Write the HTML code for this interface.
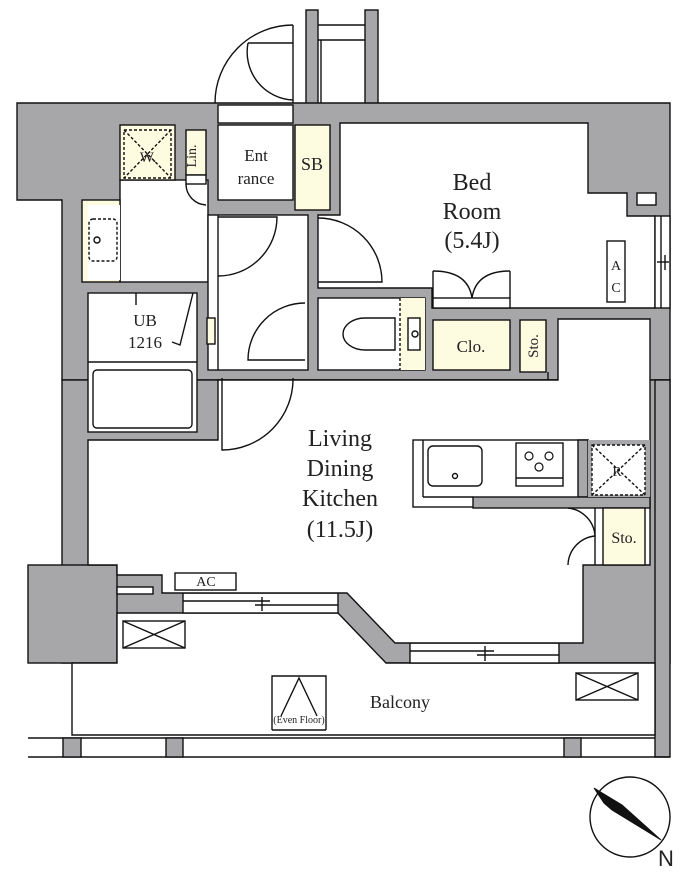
<!DOCTYPE html>
<html><head><meta charset="utf-8"><style>
html,body{margin:0;padding:0;background:#fff;}
svg{display:block;}
text{font-family:"Liberation Serif",serif;fill:#222;}
</style></head><body>
<svg width="700" height="873" viewBox="0 0 700 873" xmlns="http://www.w3.org/2000/svg">
<g stroke="#111" stroke-width="1.4" fill="none">
<rect x="306" y="10" width="12" height="95" fill="#a7a7a9"/>
<rect x="365" y="10" width="13" height="95" fill="#a7a7a9"/>
<line x1="318" y1="25" x2="365" y2="25"/><line x1="318" y1="40" x2="365" y2="40"/>
<line x1="321" y1="40" x2="321" y2="103"/>
<line x1="293" y1="25" x2="293" y2="103"/>
<path d="M293,25 A78,78 0 0 0 215,103"/>
<line x1="248" y1="43" x2="293" y2="43"/>
<path d="M248,43 A48,48 0 0 0 293,100"/>

<polygon points="17,103 670,103 670,380 62,380 62,200 17,200" fill="#a7a7a9"/>
<rect x="62" y="380" width="608" height="283" fill="#a7a7a9"/>
<rect x="28" y="565" width="89" height="98" fill="#a7a7a9"/>
<rect x="655" y="380" width="15" height="377" fill="#a7a7a9"/>

<polygon points="117,613 338,613 386,663 655,663 655,735 72,735 72,663 117,663" fill="#fff"/>
<line x1="28" y1="738" x2="655" y2="738"/>
<line x1="28" y1="757" x2="670" y2="757"/>
<rect x="63" y="738" width="18" height="19" fill="#a7a7a9"/>
<rect x="166" y="738" width="17" height="19" fill="#a7a7a9"/>
<rect x="564" y="738" width="17" height="19" fill="#a7a7a9"/>
<rect x="123" y="621" width="62" height="27" fill="#fff"/>
<path d="M123,621 L185,648 M185,621 L123,648"/>
<rect x="576" y="673" width="62" height="27" fill="#fff"/>
<path d="M576,673 L638,700 M638,673 L576,700"/>
<path d="M272,730 L272,676 L326,676 L326,730 M281,716 L299,678 L317,716 M272,730 L326,730"/>

<rect x="183" y="593" width="155" height="20" fill="#fff"/>
<line x1="183" y1="601" x2="270" y2="601"/><line x1="255" y1="605" x2="338" y2="605"/><line x1="262" y1="597" x2="262" y2="611"/>
<rect x="410" y="643" width="149" height="20" fill="#fff"/>
<line x1="410" y1="651" x2="494" y2="651"/><line x1="477" y1="655" x2="559" y2="655"/><line x1="485" y1="646" x2="485" y2="661"/>

<rect x="218" y="105" width="75" height="18" fill="#fff"/>
<rect x="218" y="125" width="75" height="75" fill="#fff"/>
<rect x="295" y="125" width="35" height="85" fill="#fdfbe0"/>
<rect x="120" y="180" width="88" height="102" fill="#fff"/>
<rect x="120" y="125" width="55" height="55" fill="#fdfbe0"/>
<rect x="124" y="130" width="47" height="48" stroke-dasharray="3,2"/>
<path d="M124,130 L171,178 M171,130 L124,178" stroke-dasharray="3,2"/>
<rect x="186" y="130" width="20" height="45" fill="#fdfbe0"/>
<rect x="186" y="175" width="20" height="9" fill="#fff"/>
<path d="M206,205 A21,21 0 0 1 186,184"/>
<rect x="82" y="200" width="38" height="82" fill="#fdfbe0"/>
<rect x="88" y="205" width="32" height="75" fill="#fff" stroke="none"/>
<rect x="89" y="219" width="28" height="42" rx="4" stroke-dasharray="3,2"/>
<circle cx="97" cy="240" r="3"/>
<rect x="88" y="293" width="109" height="139" fill="#fff"/>
<line x1="88" y1="362" x2="197" y2="362"/>
<rect x="93" y="370" width="99" height="58" rx="4"/>
<path d="M136,293 L136,305 M193,293 L180,345 L172,342"/>
<rect x="208" y="215" width="100" height="155" fill="#fff"/>
<rect x="207" y="318" width="8" height="26" fill="#fdfbe0"/>
<path d="M218,217 L277,217 A59,59 0 0 1 218,276"/>
<path d="M305,360 L248,360 A57,57 0 0 1 305,303"/>
<line x1="218" y1="215" x2="218" y2="370"/>
<polygon points="340,123 588,123 588,193 627,193 627,216 655,216 655,308 432,308 432,288 318,288 318,215 340,215" fill="#fff"/>
<rect x="637" y="193" width="19" height="12" fill="#fff"/>
<rect x="655" y="216" width="15" height="92" fill="#fff"/>
<line x1="661" y1="216" x2="661" y2="308"/><line x1="657" y1="262" x2="669" y2="262"/><line x1="665" y1="255" x2="665" y2="270"/>
<rect x="607" y="241" width="18" height="61" fill="#fff"/>
<path d="M318,282 L382,282 A64,64 0 0 0 318,218"/>
<rect x="433" y="298" width="77" height="10" fill="#fff"/>
<line x1="433" y1="271" x2="433" y2="298"/><line x1="510" y1="271" x2="510" y2="298"/>
<path d="M433,271 Q468,271 472,298 M510,271 Q476,271 472,298"/>
<rect x="318" y="298" width="107" height="72" fill="#fff"/>
<rect x="400" y="298" width="25" height="72" fill="#fdfbe0" stroke-width="0"/>
<line x1="400" y1="298" x2="400" y2="370" stroke-dasharray="3,2"/>
<path d="M395,318 L365,318 A22,16 0 0 0 365,350 L395,350 Z" fill="#fff"/>
<rect x="408" y="318" width="12" height="32" fill="#fff"/>
<circle cx="415" cy="334" r="3"/>
<rect x="433" y="320" width="77" height="50" fill="#fdfbe0"/>
<rect x="520" y="320" width="26" height="52" fill="#fdfbe0"/>
<path d="M548,372 L548,408 A28,28 0 0 1 520,380"/>
<polygon points="88,440 218,440 218,380 558,380 558,319 650,319 650,565 583,565 583,643 395,643 347,593 162,593 162,575 117,575 117,565 88,565" fill="#fff"/>
<rect x="117" y="587" width="36" height="7" fill="#fff"/>
<rect x="175" y="573" width="61" height="17" fill="#fff"/>
<path d="M222,378 L222,450 A71,71 0 0 0 293,378"/>
<rect x="413" y="440" width="175" height="67" fill="#fff"/>
<rect x="578" y="440" width="10" height="57" fill="#a7a7a9"/>
<rect x="473" y="497" width="177" height="11" fill="#a7a7a9"/>
<line x1="423" y1="440" x2="423" y2="497"/><line x1="423" y1="497" x2="473" y2="497"/>
<rect x="428" y="446" width="54" height="40" rx="5"/>
<circle cx="455" cy="476" r="2.5"/>
<rect x="516" y="443" width="47" height="43"/>
<line x1="516" y1="478" x2="563" y2="478"/>
<g stroke-width="1.2"><circle cx="529" cy="456" r="4"/><circle cx="549" cy="456" r="4"/><circle cx="539" cy="467" r="4"/></g>
<rect x="588" y="440" width="62" height="57" fill="#a7a7a9" stroke="none"/>
<rect x="592" y="445" width="53" height="50" fill="#fff" stroke-dasharray="3,2"/>
<path d="M592,445 L645,495 M645,445 L592,495" stroke-dasharray="3,2"/>
<rect x="603" y="508" width="42" height="57" fill="#fdfbe0"/>
<line x1="595" y1="508" x2="595" y2="565"/>
<path d="M568,508 A30,30 0 0 1 595,536 A30,30 0 0 0 568,565"/>
<ellipse cx="630" cy="817" rx="40" ry="40"/>
<polygon points="594,788 622,805 661,840 612,810 604,803" fill="#111" stroke-width="1"/>
</g>
<g text-anchor="middle">
<text x="472" y="190" font-size="24">Bed</text>
<text x="472" y="219" font-size="24">Room</text>
<text x="472" y="248" font-size="24">(5.4J)</text>
<text x="340" y="446" font-size="24">Living</text>
<text x="340" y="476" font-size="24">Dining</text>
<text x="340" y="506" font-size="24">Kitchen</text>
<text x="340" y="537" font-size="24">(11.5J)</text>
<text x="256" y="161" font-size="17">Ent</text>
<text x="256" y="184" font-size="17">rance</text>
<text x="312" y="170" font-size="18">SB</text>
<text x="148" y="162" font-size="15">W.</text>
<text x="145" y="326" font-size="17">UB</text>
<text x="145" y="348" font-size="17">1216</text>
<text x="471" y="352" font-size="17">Clo.</text>
<text x="616" y="270" font-size="14">A</text>
<text x="616" y="292" font-size="14">C</text>
<text x="617" y="476" font-size="14">R</text>
<text x="624" y="543" font-size="16">Sto.</text>
<text x="206" y="586" font-size="14">AC</text>
<text x="400" y="708" font-size="18">Balcony</text>
<text x="299" y="723" font-size="10">(Even Floor)</text>
<text x="196" y="156" font-size="14" transform="rotate(-90 196 156)">Lin.</text>
<text x="538" y="346" font-size="15" transform="rotate(-90 538 346)">Sto.</text>
<text x="666" y="866" font-size="22" style="font-family:'Liberation Sans',sans-serif">N</text>
</g>
</svg>
</body></html>
